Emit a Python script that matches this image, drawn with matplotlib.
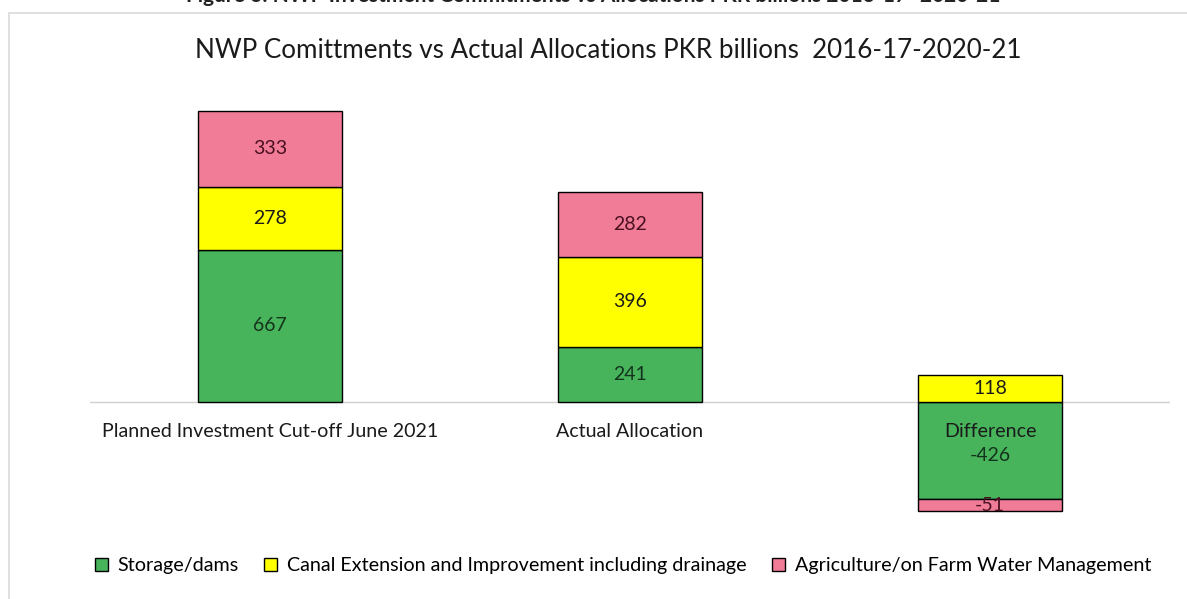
import matplotlib.pyplot as plt
from matplotlib.patches import Rectangle

plt.rcParams['font.family'] = ['Lato', 'DejaVu Sans']

categories = ['Planned Investment Cut-off June 2021', 'Actual Allocation', 'Difference']
storage = [667, 241, -426]
canal = [278, 396, 118]
agri = [333, 282, -51]
series_names = ['Storage/dams', 'Canal Extension and Improvement including drainage',
                'Agriculture/on Farm Water Management']
title = 'NWP Comittments vs Actual Allocations PKR billions  2016-17-2020-21'
caption = 'Figure 6: NWP Investment Commitments vs Allocations PKR billions 2016-17- 2020-21'

green = '#47b45c'
yellow = '#ffff00'
pink = '#f07c98'

W, H = 1187, 599
fig = plt.figure(figsize=(W / 100, H / 100), dpi=100)

# chart area frame
fig.patches.append(Rectangle((9 / W, -0.05), 1.2, 1 - 13 / H + 0.05, transform=fig.transFigure,
                             fill=False, edgecolor='#d9d9d9', linewidth=1.2))

# caption of the page, mostly above the top edge
fig.text(0.5, 1 + 4 / H, caption, ha='center', va='center', fontsize=15,
         fontweight='bold', color='#222222')

ax = fig.add_axes([90 / W, 1 - 530 / H, 1080 / W, 455 / H])
x = range(len(categories))
width = 0.4

# positive and negative parts are stacked separately
bottom_canal = [s if (s >= 0) == (c >= 0) else 0 for s, c in zip(storage, canal)]
bottom_agri = []
for s, c, a in zip(storage, canal, agri):
    base = 0
    for v in (s, c):
        if (v >= 0) == (a >= 0):
            base += v
    bottom_agri.append(base)

b1 = ax.bar(x, storage, width, color=green, edgecolor='black', linewidth=1, label=series_names[0])
b2 = ax.bar(x, canal, width, bottom=bottom_canal, color=yellow, edgecolor='black', linewidth=1,
            label=series_names[1])
b3 = ax.bar(x, agri, width, bottom=bottom_agri, color=pink, edgecolor='black', linewidth=1,
            label=series_names[2])

ax.axhline(0, color='#d0d0d0', linewidth=1, zorder=0)

for bars, vals, col in ((b1, storage, '#14331c'), (b2, canal, '#1a1a1a'), (b3, agri, '#4a1020')):
    for r, v in zip(bars, vals):
        yc = r.get_y() + r.get_height() / 2
        if abs(v) == 426:
            yc -= 20
        ax.text(r.get_x() + r.get_width() / 2, yc, str(v), ha='center', va='center',
                fontsize=14, color=col)

# category labels sit just under the zero line
for i, c in enumerate(categories):
    ax.text(i, -130, c, ha='center', va='center', fontsize=14.1, color='#1a1a1a')

ax.set_xlim(-0.5, 2.5)
ax.set_ylim(-561, 1434)
ax.axis('off')

fig.text(608 / W, 1 - 50 / H, title, ha='center', va='center', fontsize=18.7, color='#1a1a1a')

fig.legend(handles=[b1, b2, b3], loc='center', bbox_to_anchor=(623 / W, 1 - 566 / H), ncol=3,
           frameon=False, fontsize=14.2, handlelength=0.65, handleheight=0.65, handletextpad=0.5,
           columnspacing=1.3)

fig.savefig('out.png', dpi=100)
